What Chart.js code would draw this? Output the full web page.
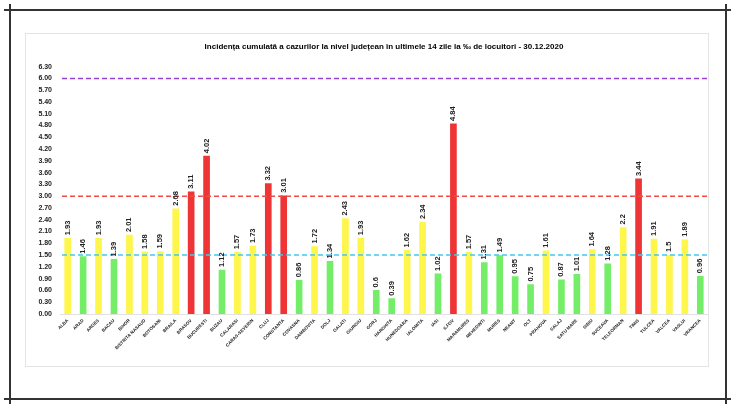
<!DOCTYPE html>
<html>
<head>
<meta charset="utf-8">
<script src="https://cdn.jsdelivr.net/npm/chart.js@4.4.1/dist/chart.umd.min.js"></script>
<style>
    body { margin: 0; background: #fff; }
    #wrap { position: relative; width: 735px; height: 408px; }
    #myBarChart { position: absolute; left: 0; top: 0; }
    .mark { position: absolute; background: #333; }
    #frame { position: absolute; left: 25px; top: 33px; width: 682px; height: 332px; border: 1.5px solid #e4e4e4; }
</style>
</head>
<body>
<div id="wrap">
    <div id="frame"></div>
    <canvas id="myBarChart" width="735" height="408"></canvas>
    <div class="mark" style="left:4px;top:9px;width:727px;height:1.5px"></div>
    <div class="mark" style="left:4px;top:398px;width:727px;height:1.5px"></div>
    <div class="mark" style="left:9px;top:4px;width:1.5px;height:400px"></div>
    <div class="mark" style="left:725px;top:4px;width:1.5px;height:400px"></div>
</div>
<script>
const counties = ['ALBA', 'ARAD', 'ARGES', 'BACAU', 'BIHOR', 'BISTRITA NASAUD', 'BOTOSANI', 'BRAILA',
    'BRASOV', 'BUCURESTI', 'BUZAU', 'CALARASI', 'CARAS-SEVERIN', 'CLUJ', 'CONSTANTA', 'COVASNA',
    'DAMBOVITA', 'DOLJ', 'GALATI', 'GIURGIU', 'GORJ', 'HARGHITA', 'HUNEDOARA', 'IALOMITA', 'IASI',
    'ILFOV', 'MARAMURES', 'MEHEDINTI', 'MURES', 'NEAMT', 'OLT', 'PRAHOVA', 'SALAJ', 'SATU MARE',
    'SIBIU', 'SUCEAVA', 'TELEORMAN', 'TIMIS', 'TULCEA', 'VALCEA', 'VASLUI', 'VRANCEA'];

const incidence = [1.93, 1.46, 1.93, 1.39, 2.01, 1.58, 1.59, 2.68, 3.11, 4.02, 1.12, 1.57, 1.73, 3.32,
    3.01, 0.86, 1.72, 1.34, 2.43, 1.93, 0.6, 0.39, 1.62, 2.34, 1.02, 4.84, 1.57, 1.31, 1.49, 0.95,
    0.75, 1.61, 0.87, 1.01, 1.64, 1.28, 2.2, 3.44, 1.91, 1.5, 1.89, 0.96];

// value labels as shown on the chart
const valueLabels = ['1.93', '1.46', '1.93', '1.39', '2.01', '1.58', '1.59', '2.68', '3.11', '4.02',
    '1.12', '1.57', '1.73', '3.32', '3.01', '0.86', '1.72', '1.34', '2.43', '1.93', '0.6', '0.39',
    '1.62', '2.34', '1.02', '4.84', '1.57', '1.31', '1.49', '0.95', '0.75', '1.61', '0.87', '1.01',
    '1.64', '1.28', '2.2', '3.44', '1.91', '1.5', '1.89', '0.96'];

// dashed threshold lines
const thresholds = [6.0, 3.0, 1.5];
const thresholdColors = ['#9b3fd0', '#ee4b4b', '#45c8f0'];

const GREEN = '#74ee68';
const YELLOW = '#fff64c';
const RED = '#ee3434';

function barColor(v) {
    if (v > 3) return RED;
    if (v >= 1.5) return YELLOW;
    return GREEN;
}

const thresholdPlugin = {
    id: 'thresholds',
    afterDatasetsDraw(chart) {
        const ctx = chart.ctx;
        const y = chart.scales.y;
        const area = chart.chartArea;
        ctx.save();
        ctx.lineWidth = 1.5;
        ctx.setLineDash([5, 3]);
        thresholds.forEach((t, i) => {
            const py = y.getPixelForValue(t);
            ctx.strokeStyle = thresholdColors[i];
            ctx.beginPath();
            ctx.moveTo(area.left + 2, py);
            ctx.lineTo(area.right, py);
            ctx.stroke();
        });
        ctx.restore();
    }
};

const valueLabelPlugin = {
    id: 'valueLabels',
    afterDatasetsDraw(chart) {
        const ctx = chart.ctx;
        const meta = chart.getDatasetMeta(0);
        ctx.save();
        ctx.font = 'bold 7.5px "Liberation Sans", Arial, sans-serif';
        ctx.fillStyle = '#222';
        ctx.textAlign = 'left';
        ctx.textBaseline = 'middle';
        meta.data.forEach((bar, i) => {
            ctx.save();
            ctx.translate(bar.x, bar.y - 3);
            ctx.rotate(-Math.PI / 2);
            ctx.fillText(valueLabels[i], 0, 0);
            ctx.restore();
        });
        ctx.restore();
    }
};

const config = {
    type: 'bar',
    data: {
        labels: counties,
        datasets: [{
            data: incidence,
            backgroundColor: incidence.map(barColor),
            barThickness: 6
        }]
    },
    options: {
        responsive: false,
        animation: false,
        layout: { padding: { left: 25, right: 27, top: 0, bottom: 0 } },
        plugins: {
            legend: { display: false },
            tooltip: { enabled: false },
            title: {
                display: true,
                fullSize: false,
                text: 'Incidența cumulată a cazurilor la nivel județean în ultimele 14 zile la ‰ de locuitori - 30.12.2020',
                color: '#000',
                font: { family: '"Liberation Sans", Arial, sans-serif', size: 8, weight: 'bold' },
                padding: { top: 42, bottom: 15 }
            }
        },
        scales: {
            x: {
                grid: { display: false, drawTicks: false },
                border: { display: true, color: '#e2e2e2' },
                ticks: {
                    color: '#222',
                    autoSkip: false,
                    minRotation: 45,
                    maxRotation: 45,
                    padding: 4,
                    font: { family: '"Liberation Sans", Arial, sans-serif', size: 4.5, weight: 'bold' }
                },
                afterFit(scale) { scale.height = 94; }
            },
            y: {
                min: 0,
                max: 6.3,
                grid: { display: false, drawTicks: false },
                border: { display: false },
                ticks: {
                    stepSize: 0.3,
                    color: '#222',
                    padding: 8,
                    font: { family: '"Liberation Sans", Arial, sans-serif', size: 7, weight: 'bold' },
                    callback: v => Number(v).toFixed(2)
                },
                afterFit(scale) { scale.width = 35; }
            }
        }
    },
    plugins: [thresholdPlugin, valueLabelPlugin]
};

new Chart(document.querySelector('#myBarChart'), config);
</script>
</body>
</html>
